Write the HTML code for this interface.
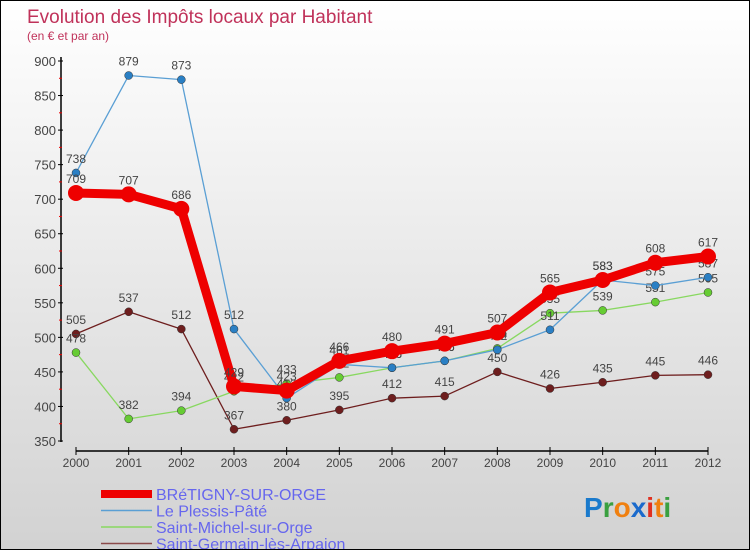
<!DOCTYPE html>
<html><head><meta charset="utf-8"><style>
body{margin:0}
#c{width:750px;height:550px;position:relative;overflow:hidden;background:linear-gradient(#fff,#d2d2d2);border:1px solid #000;box-sizing:border-box;font-family:"Liberation Sans",sans-serif}
</style></head><body>
<div id="c">
<svg id="s" width="750" height="550" style="position:absolute;left:0;top:0">
<text x="26" y="22" font-size="19" fill="#c0325a">Evolution des Impôts locaux par Habitant</text>
<text x="26" y="39" font-size="12" fill="#c0325a">(en € et par an)</text>
<g id="axes"></g><g id="series"></g><g id="legend"></g>
<text x="583" y="516" font-size="28" font-weight="bold"><tspan fill="#1a7acc">P</tspan><tspan fill="#3aa040">r</tspan><tspan fill="#f08010">o</tspan><tspan fill="#1a6acc">x</tspan><tspan fill="#e03020">i</tspan><tspan fill="#f08010">t</tspan><tspan fill="#3aa040">i</tspan></text>
</svg>
</div>
<script>
const years=[2000,2001,2002,2003,2004,2005,2006,2007,2008,2009,2010,2011,2012];
const yTicks=[350,400,450,500,550,600,650,700,750,800,850,900];
const bretigny=[709,707,686,429,423,466,480,491,507,565,583,608,617];
const plessis=[738,879,873,512,412,461,456,466,482,511,583,575,587];
const michel=[478,382,394,422,433,442,456,466,484,535,539,551,565];
const germain=[505,537,512,367,380,395,412,415,450,426,435,445,446];
const names=["BRéTIGNY-SUR-ORGE","Le Plessis-Pâté","Saint-Michel-sur-Orge","Saint-Germain-lès-Arpajon"];
const NS="http://www.w3.org/2000/svg";
const X=i=>75+i*(707-75)/12;
const Y=v=>440-(v-350)*(380/550);
function mk(p,t,a){const e=document.createElementNS(NS,t);for(const k in a)e.setAttribute(k,a[k]);p.appendChild(e);return e;}
const ax=document.getElementById('axes');
let l=mk(ax,'line',{x1:60,y1:56,x2:60,y2:441,stroke:'#000','stroke-width':1.5});

l=mk(ax,'line',{x1:75,y1:450,x2:707,y2:450,stroke:'#000','stroke-width':1.5});

yTicks.forEach((v,i)=>{
 mk(ax,'line',{x1:57,y1:Y(v),x2:62,y2:Y(v),stroke:'#000'});
 if(i<yTicks.length-1)mk(ax,'line',{x1:58,y1:Y(v+25),x2:61,y2:Y(v+25),stroke:'#e00'});
 const t=mk(ax,'text',{x:55,y:Y(v)+5,'font-size':13,'text-anchor':'end',fill:'#444'});t.textContent=v;
 
});
years.forEach((y,i)=>{
 mk(ax,'line',{x1:X(i),y1:446,x2:X(i),y2:454,stroke:'#000'});
 const t=mk(ax,'text',{x:X(i),y:466,'font-size':12,'text-anchor':'middle',fill:'#444'});t.textContent=y;
 
});
const sg=document.getElementById('series');
const defs=[[germain,'#6e1e1e','#6e1e1e',1.3,4,'saint-germain'],[michel,'#88d860','#66cc33',1.3,4,'saint-michel'],[plessis,'#5a9fd4','#2a7fc4',1.3,4,'le-plessis'],[bretigny,'#ee0000','#ee0000',9,8,'bretigny']];
defs.forEach(([d,lc,mc,w,r,n])=>{
 const g=mk(sg,'g',{});
 
 const p=mk(g,'polyline',{points:d.map((v,i)=>X(i)+','+Y(v)).join(' '),fill:'none',stroke:lc,'stroke-width':w,'stroke-linejoin':'round'});
 
 d.forEach((v,i)=>{
  const c=mk(g,'circle',{cx:X(i),cy:Y(v),r:r,fill:mc,stroke:'#333','stroke-width':w>2?0:0.5});
  
  const t=mk(g,'text',{x:X(i),y:Y(v)-10,'font-size':12,'text-anchor':'middle',fill:'#444'});t.textContent=v;
  
 });
});
const lg=document.getElementById('legend');
const lst=[['#ee0000',8],['#5a9fd4',1.5],['#88d860',1.5],['#8b4a4a',1.5]];
names.forEach((nm,i)=>{
 const y=493+i*16.5;
 const g=mk(lg,'g',{});
 
 mk(g,'line',{x1:100,y1:y,x2:151,y2:y,stroke:lst[i][0],'stroke-width':lst[i][1]});
 const t=mk(g,'text',{x:155,y:y+6,'font-size':16,fill:'#6666ee'});t.textContent=nm;
});
</script>
</body></html>
